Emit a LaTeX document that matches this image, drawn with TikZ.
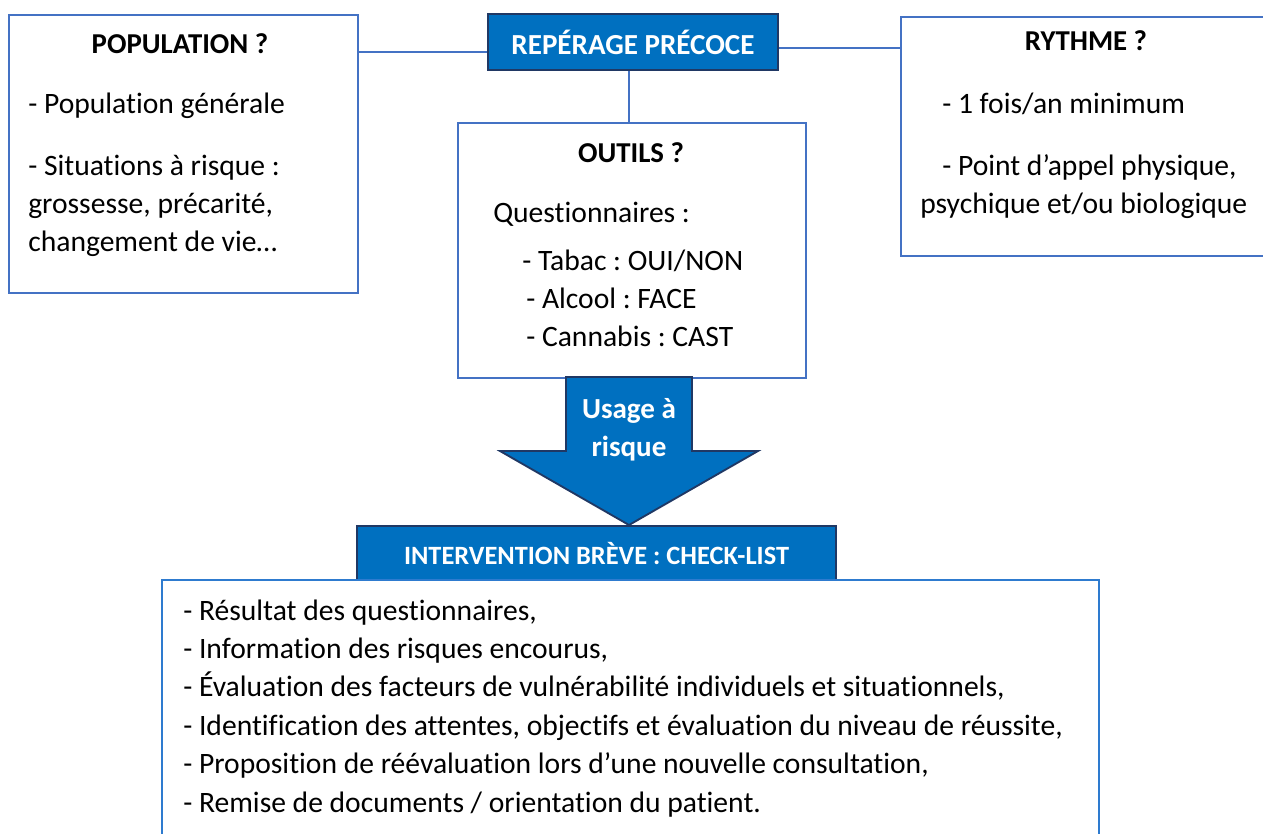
\documentclass[tikz,border=0pt]{standalone}
\usepackage{fontspec}
\setmainfont[Ligatures = NoCommon]{Carlito}
\usetikzlibrary{calc}
\frenchspacing

\definecolor{fillblue}{HTML}{0070C0}
\definecolor{navy}{HTML}{203864}
\definecolor{frameblue}{HTML}{4472C4}
\definecolor{listblue}{HTML}{2E7BCF}

\begin{document}
\begin{tikzpicture}[x = 0.75pt, y = -0.75pt,
	box/.style = {draw = frameblue, line width = 1.4pt, fill = white, anchor = north west, inner sep = 0pt},
	banner/.style = {draw = navy, line width = 1.6pt, fill = fillblue, text = white, inner sep = 0pt,
		font = \bfseries\fontsize{21.8}{28.5}\selectfont},
	title/.style = {font = \bfseries\fontsize{21.6}{25}\selectfont, anchor = base, inner sep = 0pt},
	body/.style = {font = \fontsize{22.2}{26}\selectfont, anchor = base west, inner sep = 0pt},
	link/.style = {draw = frameblue, line width = 0.9pt}]

	% Definitions

	\def\px{0.75pt}		% one pixel of the reference
	\def\gap{38.4}		% line spacing in pixels

	\useasboundingbox (0, 0) rectangle (1263, 833);


	% Boxes

	\node [box, minimum width = 349 * \px, minimum height = 278 * \px] (pop) at (8, 14) {};
	\node [box, minimum width = 366 * \px, minimum height = 239 * \px] (ryt) at (900, 16) {};
	\node [box, minimum width = 348 * \px, minimum height = 255 * \px] (outils) at (457, 122) {};

	\node [banner, minimum width = 290 * \px, minimum height = 56 * \px] (rep) at (633, 42) {REPÉRAGE PRÉCOCE};
	\node [banner, minimum width = 479 * \px, minimum height = 54 * \px, font = \bfseries\fontsize{19.8}{25}\selectfont]
		(interv) at (596.5, 553) {INTERVENTION BRÈVE : CHECK-LIST};
	\node [box, draw = listblue, minimum width = 937 * \px, minimum height = 280 * \px] (check) at (161, 579) {};


	% Connectors from the banner

	\coordinate (popjoin) at ($(rep.west) + (0, 10)$);
	\coordinate (rytjoin) at ($(rep.east) + (0, 6)$);
	\coordinate (tail) at (629, 377);
	\coordinate (tip) at (629, 525);

	\draw [link] (popjoin) -- (popjoin -| pop.east);
	\draw [link] (rytjoin) -- (rytjoin -| ryt.west);
	\draw [link] (rep.south -| tail) -- (outils.north -| tail);


	% Block arrow from OUTILS down to the check-list

	\filldraw [draw = navy, line width = 1.4pt, fill = fillblue, line join = miter]
		($(tail) + (-63, 0)$) -- ($(tail) + (63, 0)$) -- ($(tail) + (63, 74)$) -- ($(tail) + (129, 74)$)
		-- (tip) -- ($(tail) + (-129, 74)$) -- ($(tail) + (-63, 74)$) -- cycle;
	\node [banner, draw = none, fill = none, align = center] (usage) at (629, 430) {Usage à\\risque};


	% Texts of the boxes

	\node [title] (poptitle) at (180, 53) {POPULATION ?};
	\node [body] (pop1) at (28, 113) {- Population générale};
	\foreach \txt [count = \i] in {- Situations à risque :, {grossesse, précarité,}, changement de vie…}
		\node [body] (pop2\i) at (28, {175 + \gap * (\i - 1)}) {\txt};

	\node [title] (ryttitle) at (1086, 50) {RYTHME ?};
	\node [body] (ryt1) at (942, 113) {- 1 fois/an minimum};
	\node [body] (ryt2) at (942, 175) {- Point d’appel physique,};
	\node [body] (ryt3) at (920, {175 + \gap}) {psychique et/ou biologique};

	\node [title] (outtitle) at (631, 162) {OUTILS ?};
	\node [body] (quest) at (493, 222) {Questionnaires :};
	\node [body] (tabac) at (522, 270) {- Tabac : OUI/NON};
	\node [body] (alcool) at (526, {270 + \gap}) {- Alcool : FACE};
	\node [body] (cannabis) at (526, {270 + 2 * \gap}) {- Cannabis : CAST};

	\foreach \txt [count = \i] in {{- Résultat des questionnaires,}, {- Information des risques encourus,},
		{- Évaluation des facteurs de vulnérabilité individuels et situationnels,},
		{- Identification des attentes, objectifs et évaluation du niveau de réussite,},
		{- Proposition de réévaluation lors d’une nouvelle consultation,},
		{- Remise de documents / orientation du patient.}}
		\node [body] (check\i) at (183, {620 + \gap * (\i - 1)}) {\txt};

\end{tikzpicture}
\end{document}
